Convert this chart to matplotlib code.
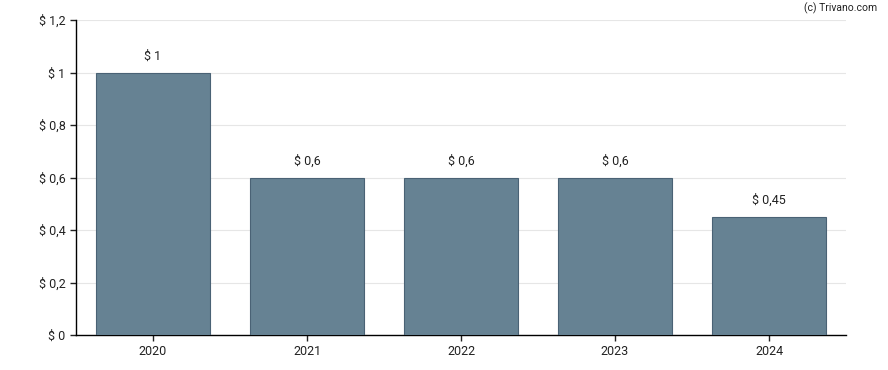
import matplotlib
matplotlib.use("Agg")
import matplotlib.pyplot as plt

years = ["2020", "2021", "2022", "2023", "2024"]
dividends = [1.0, 0.6, 0.6, 0.6, 0.45]
value_labels = ["$ 1", "$ 0,6", "$ 0,6", "$ 0,6", "$ 0,45"]
y_ticks = [0, 0.2, 0.4, 0.6, 0.8, 1.0, 1.2]
y_tick_labels = ["$ 0", "$ 0,2", "$ 0,4", "$ 0,6", "$ 0,8", "$ 1", "$ 1,2"]

plt.rcParams['font.family'] = ['Roboto', 'DejaVu Sans']

fig = plt.figure(figsize=(8.88, 3.70), dpi=100)
ax = fig.add_axes([76 / 888, 35 / 370, 770 / 888, 315 / 370])

x = range(len(years))
ax.bar(x, dividends, width=0.74, color='#668293', edgecolor='#4a6275', linewidth=0.8, zorder=3)

for i, (v, lab) in enumerate(zip(dividends, value_labels)):
    ax.annotate(lab, (i, v), xytext=(0, 7), textcoords='offset points',
                ha='center', va='bottom', fontsize=9, color='#222222')

ax.set_xlim(-0.5, len(years) - 0.5)
ax.set_ylim(0, 1.2)
ax.set_xticks(list(x))
ax.set_xticklabels(years)
ax.set_yticks(y_ticks)
ax.set_yticklabels(y_tick_labels)
ax.tick_params(axis='both', labelsize=9, colors='#222222', length=4, width=1)
ax.tick_params(axis='x', pad=3)

ax.grid(axis='y', color='#e6e6e6', linewidth=0.8, zorder=0)
ax.spines['top'].set_visible(False)
ax.spines['right'].set_visible(False)
ax.spines['left'].set_linewidth(1)
ax.spines['bottom'].set_linewidth(1)

fig.text(877 / 888, 1 - 8 / 370, "(c) Trivano.com", ha='right', va='center', fontsize=7.5, color='#222222')

fig.savefig("out.png", dpi=100)
